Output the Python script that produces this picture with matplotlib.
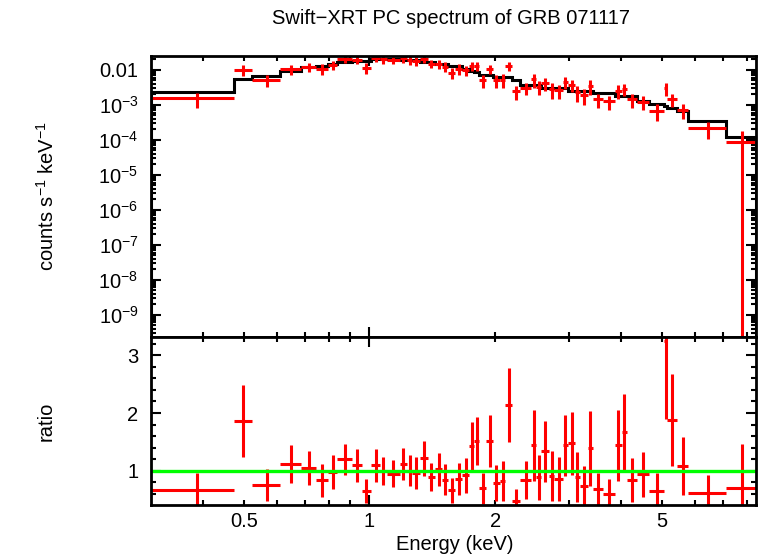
import numpy as np
import matplotlib
matplotlib.use('Agg')
import matplotlib.pyplot as plt
import matplotlib.ticker as mticker

plt.rcParams['font.family'] = ['Liberation Sans', 'DejaVu Sans']
plt.rcParams['mathtext.fontset'] = 'custom'
plt.rcParams['mathtext.rm'] = 'Liberation Sans'
plt.rcParams['mathtext.it'] = 'Liberation Sans:italic'
plt.rcParams['mathtext.bf'] = 'Liberation Sans:bold'

# channel edges of the grouped spectrum (keV)
energy_edges = [0.3, 0.473, 0.523, 0.612, 0.686, 0.744, 0.795, 0.838, 0.908, 0.958,
                1.008, 1.060, 1.100, 1.180, 1.232, 1.262, 1.322, 1.378, 1.436, 1.490,
                1.545, 1.605, 1.665, 1.730, 1.780, 1.830, 1.905, 1.975, 2.050, 2.115,
                2.190, 2.290, 2.440, 2.500, 2.580, 2.690, 2.770, 2.900, 2.990, 3.100,
                3.190, 3.340, 3.420, 3.630, 3.875, 4.010, 4.140, 4.375, 4.670, 5.070,
                5.150, 5.430, 5.800, 7.140, 8.400]

# folded model per channel (counts/s/keV)
model = [2.31e-3, 5.42e-3, 6.75e-3, 9.35e-3, 1.175e-2, 1.30e-2, 1.455e-2, 1.70e-2, 1.81e-2, 1.81e-2,
         2.02e-2, 2.02e-2, 2.02e-2, 1.905e-2, 1.905e-2, 1.905e-2, 1.70e-2, 1.70e-2, 1.48e-2, 1.48e-2,
         1.276e-2, 1.276e-2, 1.09e-2, 9.1e-3, 8.5e-3, 7.24e-3, 7.24e-3, 6.46e-3, 6.46e-3, 6.17e-3,
         5.13e-3, 3.72e-3, 3.72e-3, 3.72e-3, 3.09e-3, 3.09e-3, 3.09e-3, 3.09e-3, 2.57e-3, 2.57e-3,
         2.57e-3, 2.57e-3, 2.14e-3, 2.14e-3, 1.74e-3, 1.74e-3, 1.74e-3, 1.32e-3, 1.07e-3, 9.3e-4,
         7.9e-4, 6.6e-4, 3.55e-4, 1.2e-4]

# data / model ratio and its 1 sigma error
ratio = [0.66, 1.86, 0.753, 1.11, 1.047, 0.834, 0.98, 1.20, 1.093, 0.644,
         1.093, 0.995, 0.948, 1.116, 1.0, 0.966, 1.215, 0.891, 1.024, 0.845,
         0.66, 0.856, 0.92, 1.427, 1.514, 0.695, 1.514, 0.782, 0.822, 2.137,
         0.476, 0.84, 1.44, 0.89, 1.335, 0.914, 0.856, 1.44, 1.474, 0.89,
         0.735, 1.393, 0.678, 0.597, 1.44, 1.664, 0.834, 0.937, 0.644, 3.24,
         1.877, 1.08, 0.609, 0.70]
ratio_err = [0.30, 0.63, 0.28, 0.33, 0.30, 0.28, 0.29, 0.27, 0.29, 0.21,
             0.28, 0.24, 0.23, 0.28, 0.27, 0.28, 0.30, 0.24, 0.29, 0.27,
             0.22, 0.28, 0.30, 0.42, 0.41, 0.27, 0.45, 0.31, 0.34, 0.64,
             0.20, 0.33, 0.62, 0.39, 0.53, 0.43, 0.38, 0.53, 0.55, 0.43,
             0.35, 0.65, 0.29, 0.26, 0.62, 0.66, 0.38, 0.39, 0.32, 1.35,
             0.80, 0.50, 0.32, 0.77]

# labelled decades on the spectrum panel
y_decades = [1e-9, 1e-8, 1e-7, 1e-6, 1e-5, 1e-4, 1e-3, 1e-2]

edges = np.array(energy_edges)
e_mid = (edges[:-1] + edges[1:]) / 2
e_half = (edges[1:] - edges[:-1]) / 2
mod = np.array(model)
rat = np.array(ratio)
rat_err = np.array(ratio_err)
flux = rat * mod
flux_err = rat_err * mod
flux_lo = np.minimum(flux_err, flux - 1e-13)

W, H = 758, 556
fig = plt.figure(figsize=(W / 100, H / 100), dpi=100)
left, right = 151, 755.7
ax1 = fig.add_axes([left / W, 1 - 337 / H, (right - left) / W, (337 - 56) / H])
ax2 = fig.add_axes([left / W, 1 - 505 / H, (right - left) / W, (505 - 337) / H])

red = '#ff0000'
ax1.errorbar(e_mid, flux, xerr=e_half, yerr=[flux_lo, flux_err], fmt='none',
             ecolor=red, elinewidth=2.2, capsize=0)
ax1.stairs(mod, edges, color='black', lw=2.2)
ax1.set_xscale('log')
ax1.set_yscale('log')
ax1.set_xlim(0.3, 8.4)
ax1.set_ylim(2.3e-10, 0.025)

ax2.errorbar(e_mid, rat, xerr=e_half, yerr=rat_err, fmt='none',
             ecolor=red, elinewidth=2.2, capsize=0)
ax2.axhline(1.0, color='#00ff00', lw=2.4)
ax2.set_xscale('log')
ax2.set_xlim(0.3, 8.4)
ax2.set_ylim(0.407, 3.317)

fs = 14.5
minor_x = [0.4, 0.5, 0.6, 0.7, 0.8, 0.9, 2, 3, 4, 5, 6, 7, 8]
for ax in (ax1, ax2):
    ax.xaxis.set_major_locator(mticker.FixedLocator([1]))
    ax.xaxis.set_minor_locator(mticker.FixedLocator(minor_x))
    ax.tick_params(which='both', direction='in', top=True, right=True,
                   width=1.5, labelsize=fs, colors='black')
    ax.tick_params(which='major', length=7.5)
    ax.tick_params(which='minor', length=3.8)
    ax.tick_params(axis='y', which='both', pad=9)
    ax.tick_params(axis='x', which='both', pad=5)
    for s in ax.spines.values():
        s.set_linewidth(2)

ax1.xaxis.set_major_formatter(mticker.NullFormatter())
ax1.xaxis.set_minor_formatter(mticker.NullFormatter())
ax2.xaxis.set_major_formatter(mticker.FuncFormatter(lambda v, p: '%g' % v))
ax2.xaxis.set_minor_formatter(
    mticker.FuncFormatter(lambda v, p: '%g' % v if v in (0.5, 2, 5) else ''))


def log_label(v, p):
    k = int(round(np.log10(v)))
    if k == -2:
        return '0.01'
    return r'$10^{%d}$' % k


ax1.yaxis.set_major_locator(mticker.FixedLocator(y_decades))
ax1.yaxis.set_minor_locator(mticker.LogLocator(base=10, subs=np.arange(2, 10), numticks=30))
ax1.yaxis.set_major_formatter(mticker.FuncFormatter(log_label))
ax1.yaxis.set_minor_formatter(mticker.NullFormatter())

ax2.yaxis.set_major_locator(mticker.FixedLocator([1, 2, 3]))
ax2.yaxis.set_minor_locator(mticker.MultipleLocator(0.2))
ax2.yaxis.set_major_formatter(mticker.FormatStrFormatter('%d'))

fig.text(451 / W, 1 - 18 / H, 'Swift\u2212XRT PC spectrum of GRB 071117',
         ha='center', va='center', fontsize=fs)
fig.text(46.5 / W, 1 - 196.5 / H, r'counts s$^{-1}$ keV$^{-1}$', rotation=90,
         ha='center', va='center', fontsize=fs)
fig.text(46.5 / W, 1 - 421 / H, 'ratio', rotation=90,
         ha='center', va='center', fontsize=fs)
fig.text(455 / W, 1 - 544 / H, 'Energy (keV)', ha='center', va='center', fontsize=fs)

fig.savefig('out.png', dpi=100)
